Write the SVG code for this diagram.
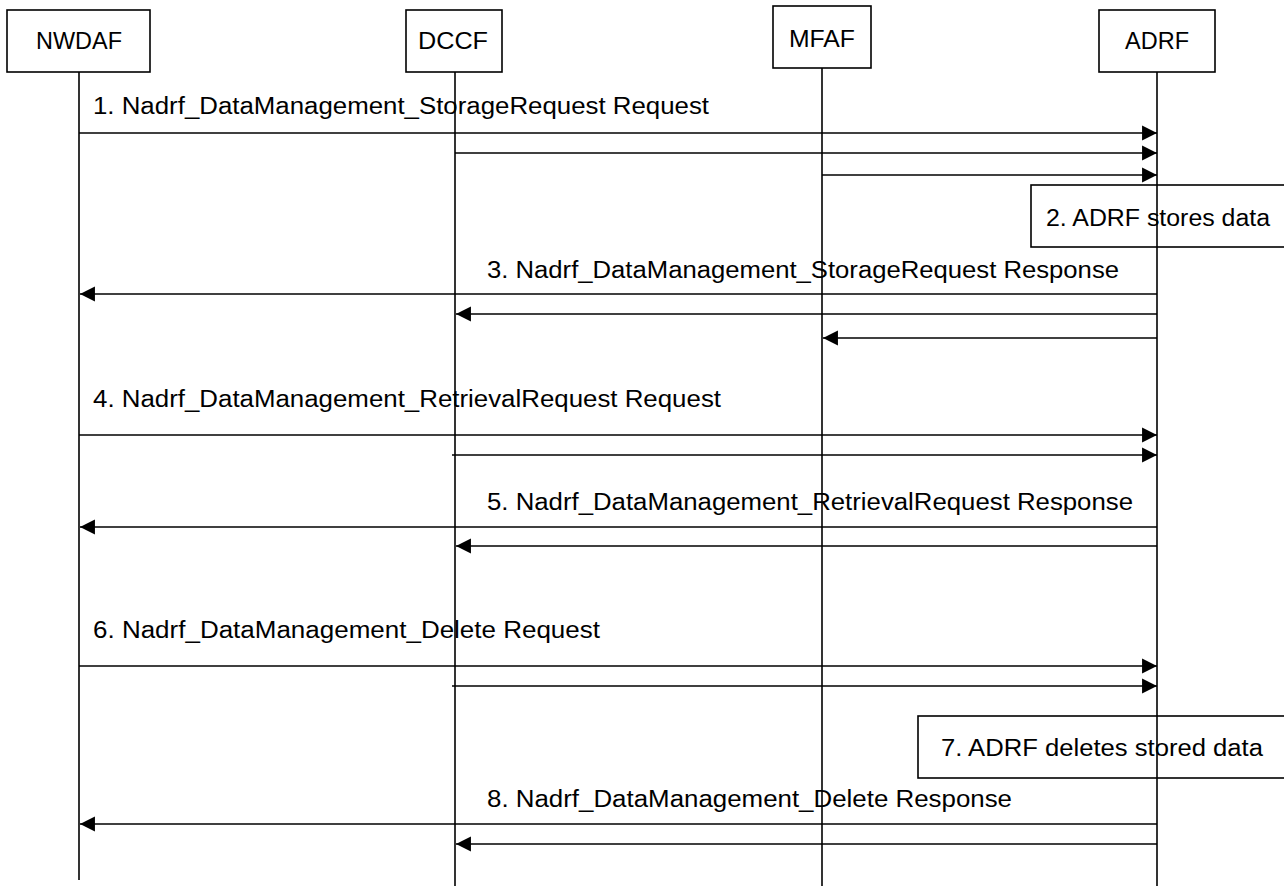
<svg xmlns="http://www.w3.org/2000/svg" width="1284" height="886" viewBox="0 0 1284 886">
  <style>
    .box { fill: #ffffff; stroke: #000000; stroke-width: 1.6; }
    .life { stroke: #000000; stroke-width: 1.6; fill: none; }
    .msg { stroke: #000000; stroke-width: 1.6; fill: none; marker-end: url(#arrow); }
    text { font-family: "Liberation Sans", Arial, sans-serif; font-size: 23px; fill: #000000; }
    .hdr { font-size: 23px; text-anchor: middle; }
  </style>
  <defs>
    <marker id="arrow" markerUnits="userSpaceOnUse" markerWidth="16" markerHeight="16" refX="14" refY="7" orient="auto" viewBox="0 0 15 14">
      <path d="M0,0 L14,7 L0,14 Z" fill="#000000"/>
    </marker>
  </defs>
  <rect width="1284" height="886" fill="#ffffff"/>

  <g id="lifelines">
    <line class="life" x1="79" y1="72" x2="79" y2="880"/>
    <line class="life" x1="455" y1="72" x2="455" y2="886"/>
    <line class="life" x1="822" y1="68" x2="822" y2="886"/>
    <line class="life" x1="1157" y1="72" x2="1157" y2="886"/>
  </g>

  <g id="node-nwdaf">
    <rect class="box" x="7" y="10" width="143" height="62"/>
    <text class="hdr" x="79" y="49" textLength="86" lengthAdjust="spacingAndGlyphs">NWDAF</text>
  </g>
  <g id="node-dccf">
    <rect class="box" x="406" y="10" width="96" height="62"/>
    <text class="hdr" x="453" y="49" textLength="70" lengthAdjust="spacingAndGlyphs">DCCF</text>
  </g>
  <g id="node-mfaf">
    <rect class="box" x="773" y="6" width="98" height="62"/>
    <text class="hdr" x="822" y="47" textLength="66" lengthAdjust="spacingAndGlyphs">MFAF</text>
  </g>
  <g id="node-adrf">
    <rect class="box" x="1099" y="10" width="116" height="62"/>
    <text class="hdr" x="1157" y="49" textLength="64" lengthAdjust="spacingAndGlyphs">ADRF</text>
  </g>

  <g id="node-step2">
    <rect class="box" x="1031" y="185" width="260" height="62"/>
    <line class="life" x1="1157" y1="185" x2="1157" y2="247"/>
    <text x="1046" y="226" textLength="224" lengthAdjust="spacingAndGlyphs">2. ADRF stores data</text>
  </g>
  <g id="node-step7">
    <rect class="box" x="918" y="716" width="373" height="62"/>
    <line class="life" x1="1157" y1="716" x2="1157" y2="778"/>
    <text x="941" y="756" textLength="322" lengthAdjust="spacingAndGlyphs">7. ADRF deletes stored data</text>
  </g>

  <g id="connectors">
    <line class="msg" x1="79" y1="133" x2="1157" y2="133"/>
    <line class="msg" x1="455" y1="153" x2="1157" y2="153"/>
    <line class="msg" x1="822" y1="175" x2="1157" y2="175"/>

    <line class="msg" x1="1157" y1="294" x2="80" y2="294"/>
    <line class="msg" x1="1157" y1="314" x2="456" y2="314"/>
    <line class="msg" x1="1157" y1="338" x2="823" y2="338"/>

    <line class="msg" x1="79" y1="435" x2="1157" y2="435"/>
    <line class="msg" x1="452" y1="455" x2="1157" y2="455"/>

    <line class="msg" x1="1157" y1="527" x2="80" y2="527"/>
    <line class="msg" x1="1157" y1="546" x2="456" y2="546"/>

    <line class="msg" x1="79" y1="666" x2="1157" y2="666"/>
    <line class="msg" x1="452" y1="686" x2="1157" y2="686"/>

    <line class="msg" x1="1157" y1="824" x2="80" y2="824"/>
    <line class="msg" x1="1157" y1="844" x2="456" y2="844"/>
  </g>

  <g id="labels">
    <text x="93" y="114" textLength="616" lengthAdjust="spacingAndGlyphs">1. Nadrf_DataManagement_StorageRequest Request</text>
    <text x="487" y="278" textLength="632" lengthAdjust="spacingAndGlyphs">3. Nadrf_DataManagement_StorageRequest Response</text>
    <text x="93" y="407" textLength="628" lengthAdjust="spacingAndGlyphs">4. Nadrf_DataManagement_RetrievalRequest Request</text>
    <text x="487" y="510" textLength="646" lengthAdjust="spacingAndGlyphs">5. Nadrf_DataManagement_RetrievalRequest Response</text>
    <text x="93" y="638" textLength="507" lengthAdjust="spacingAndGlyphs">6. Nadrf_DataManagement_Delete Request</text>
    <text x="487" y="807" textLength="525" lengthAdjust="spacingAndGlyphs">8. Nadrf_DataManagement_Delete Response</text>
  </g>
</svg>
